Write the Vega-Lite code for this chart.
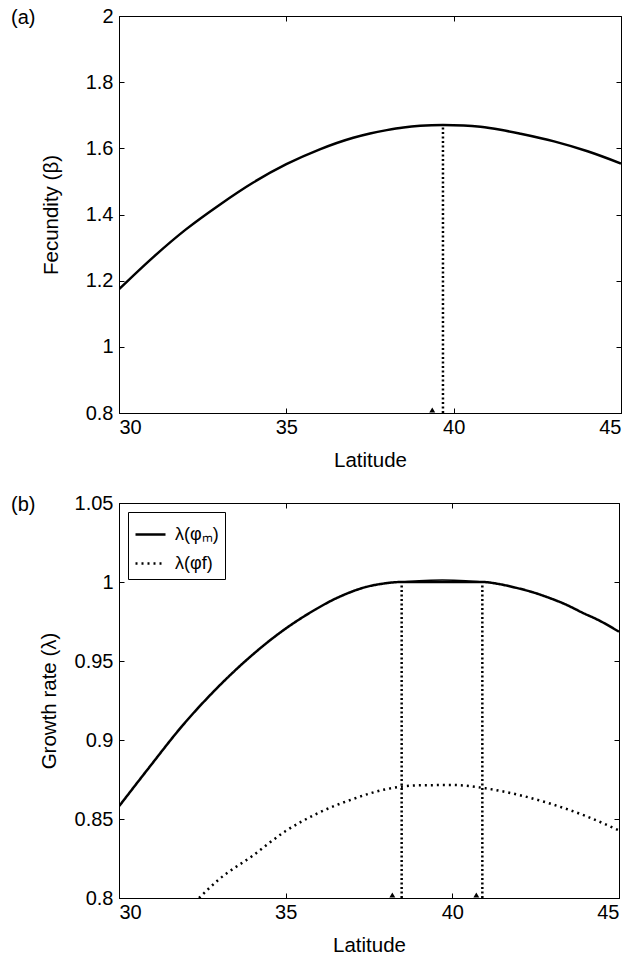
{
  "$schema": "https://vega.github.io/schema/vega-lite/v6.json",
  "padding": {"left": 10, "top": 5, "right": 7, "bottom": 2},
  "spacing": 21,
  "resolve": {"legend": {"strokeDash": "independent"}},
  "config": {
    "font": "Liberation Sans",
    "view": {"stroke": "black", "strokeWidth": 1},
    "axis": {"grid": false, "domainColor": "black", "tickColor": "black", "labelColor": "black", "titleColor": "black", "labelFontSize": 20, "titleFontSize": 20.5, "titleFontWeight": "normal", "tickSize": -5, "labelPadding": 11, "domainWidth": 1, "tickWidth": 1},
    "axisX": {"labelPadding": 9},
    "title": {"fontSize": 20, "fontWeight": "normal", "anchor": "start", "frame": "group", "color": "black"},
    "legend": {"orient": "top-left", "offset": 9, "strokeColor": "black", "fillColor": "white", "padding": 6, "symbolType": "stroke", "symbolSize": 900, "symbolStrokeWidth": 2.5, "symbolStrokeColor": "black", "labelFontSize": 18, "labelOffset": 8, "labelColor": "black", "rowPadding": 3}
  },
  "datasets": {
    "fec": [
      {"lat": 30, "beta": 1.174}, {"lat": 31, "beta": 1.269}, {"lat": 32, "beta": 1.355}, {"lat": 33, "beta": 1.429},
      {"lat": 34, "beta": 1.496}, {"lat": 35, "beta": 1.552}, {"lat": 36, "beta": 1.597}, {"lat": 37, "beta": 1.632},
      {"lat": 37.5, "beta": 1.645}, {"lat": 38, "beta": 1.655}, {"lat": 38.5, "beta": 1.663}, {"lat": 39, "beta": 1.668},
      {"lat": 39.68, "beta": 1.6705}, {"lat": 40.3, "beta": 1.669}, {"lat": 40.8, "beta": 1.665}, {"lat": 41.4, "beta": 1.656},
      {"lat": 42, "beta": 1.644}, {"lat": 43, "beta": 1.621}, {"lat": 44, "beta": 1.591}, {"lat": 45, "beta": 1.554}
    ],
    "growth": [
      {"series": "λ(φₘ)", "lat": 30, "lam": 0.858}, {"series": "λ(φₘ)", "lat": 30.9, "lam": 0.8825},
      {"series": "λ(φₘ)", "lat": 31.9, "lam": 0.909}, {"series": "λ(φₘ)", "lat": 32.9, "lam": 0.932},
      {"series": "λ(φₘ)", "lat": 33.9, "lam": 0.952}, {"series": "λ(φₘ)", "lat": 34.9, "lam": 0.969},
      {"series": "λ(φₘ)", "lat": 35.9, "lam": 0.9827}, {"series": "λ(φₘ)", "lat": 36.4, "lam": 0.9885},
      {"series": "λ(φₘ)", "lat": 36.9, "lam": 0.9932}, {"series": "λ(φₘ)", "lat": 37.4, "lam": 0.9968},
      {"series": "λ(φₘ)", "lat": 37.9, "lam": 0.9989}, {"series": "λ(φₘ)", "lat": 38.48, "lam": 1.0},
      {"series": "λ(φₘ)", "lat": 40.9, "lam": 1.0}, {"series": "λ(φₘ)", "lat": 41.4, "lam": 0.9987},
      {"series": "λ(φₘ)", "lat": 41.9, "lam": 0.9964}, {"series": "λ(φₘ)", "lat": 42.4, "lam": 0.9936},
      {"series": "λ(φₘ)", "lat": 42.9, "lam": 0.990}, {"series": "λ(φₘ)", "lat": 43.4, "lam": 0.9858},
      {"series": "λ(φₘ)", "lat": 43.9, "lam": 0.9806}, {"series": "λ(φₘ)", "lat": 44.4, "lam": 0.9757},
      {"series": "λ(φₘ)", "lat": 45, "lam": 0.9685},
      {"series": "λ(φf)", "lat": 32.4, "lam": 0.8}, {"series": "λ(φf)", "lat": 33, "lam": 0.8118},
      {"series": "λ(φf)", "lat": 34, "lam": 0.8266}, {"series": "λ(φf)", "lat": 35, "lam": 0.8424},
      {"series": "λ(φf)", "lat": 36, "lam": 0.854}, {"series": "λ(φf)", "lat": 37, "lam": 0.8625},
      {"series": "λ(φf)", "lat": 38, "lam": 0.8688}, {"series": "λ(φf)", "lat": 39, "lam": 0.8713},
      {"series": "λ(φf)", "lat": 40, "lam": 0.8715}, {"series": "λ(φf)", "lat": 41, "lam": 0.8694},
      {"series": "λ(φf)", "lat": 42, "lam": 0.8652}, {"series": "λ(φf)", "lat": 43, "lam": 0.8593},
      {"series": "λ(φf)", "lat": 44, "lam": 0.8519}, {"series": "λ(φf)", "lat": 45, "lam": 0.8428}
    ],
    "bump": [
      {"lat": 38.5, "lam": 1.0}, {"lat": 39.0, "lam": 1.0008}, {"lat": 39.7, "lam": 1.0012}, {"lat": 40.4, "lam": 1.0008}, {"lat": 40.9, "lam": 1.0}
    ]
  },
  "vconcat": [
    {
      "width": 502,
      "height": 397,
      "title": {"text": "(a)", "dx": -108, "dy": 22, "offset": 0},
      "layer": [
        {
          "data": {"name": "fec"},
          "mark": {"type": "line", "color": "black", "strokeWidth": 2.5, "clip": true, "interpolate": "monotone"},
          "encoding": {
            "x": {"field": "lat", "type": "quantitative", "scale": {"domain": [30, 45], "nice": false, "zero": false},
                  "axis": {"values": [30, 35, 40, 45], "title": "Latitude", "titleY": 37}},
            "y": {"field": "beta", "type": "quantitative", "scale": {"domain": [0.8, 2], "nice": false, "zero": false},
                  "axis": {"values": [0.8, 1, 1.2, 1.4, 1.6, 1.8, 2], "format": ".1~f", "title": "Fecundity (β)", "titleX": -62, "titleBaseline": "alphabetic"}}
          }
        },
        {
          "data": {"values": [{"lat": 39.68, "lo": 0.8, "hi": 1.6705}]},
          "mark": {"type": "rule", "color": "black", "strokeWidth": 2.5, "strokeDash": [2, 2.5]},
          "encoding": {
            "x": {"field": "lat", "type": "quantitative", "axis": {"orient": "top", "labels": false, "title": null, "values": [30, 35, 40, 45], "domain": false}},
            "y": {"field": "lo", "type": "quantitative", "axis": {"orient": "right", "labels": false, "title": null, "values": [0.8, 1, 1.2, 1.4, 1.6, 1.8, 2], "domain": false}},
            "y2": {"field": "hi"}
          }
        },
        {
          "data": {"values": [{"lat": 39.36, "v": 0.8}]},
          "mark": {"type": "point", "shape": "triangle-up", "filled": true, "color": "black", "size": 35, "opacity": 1, "yOffset": -3},
          "encoding": {
            "x": {"field": "lat", "type": "quantitative", "axis": null},
            "y": {"field": "v", "type": "quantitative", "axis": null}
          }
        }
      ],
      "resolve": {"axis": {"x": "independent", "y": "independent"}}
    },
    {
      "width": 500,
      "height": 395,
      "title": {"text": "(b)", "dx": -108, "dy": 22, "offset": 0},
      "layer": [
        {
          "data": {"name": "growth"},
          "mark": {"type": "line", "color": "black", "strokeWidth": 2.5, "clip": true, "interpolate": "monotone"},
          "encoding": {
            "x": {"field": "lat", "type": "quantitative", "scale": {"domain": [30, 45], "nice": false, "zero": false},
                  "axis": {"values": [30, 35, 40, 45], "title": "Latitude", "titleY": 37}},
            "y": {"field": "lam", "type": "quantitative", "scale": {"domain": [0.8, 1.05], "nice": false, "zero": false},
                  "axis": {"values": [0.8, 0.85, 0.9, 0.95, 1, 1.05], "format": ".2~f", "title": "Growth rate (λ)", "titleX": -64, "titleBaseline": "alphabetic"}},
            "strokeDash": {"field": "series", "type": "nominal", "scale": {"domain": ["λ(φₘ)", "λ(φf)"], "range": [[1, 0], [2, 4]]}, "legend": {"title": null}}
          }
        },
        {
          "data": {"name": "bump"},
          "mark": {"type": "line", "color": "black", "strokeWidth": 1.5, "interpolate": "monotone"},
          "encoding": {
            "x": {"field": "lat", "type": "quantitative", "axis": null},
            "y": {"field": "lam", "type": "quantitative", "axis": null}
          }
        },
        {
          "data": {"values": [{"lat": 38.48, "lo": 0.8, "hi": 1.0}, {"lat": 40.9, "lo": 0.8, "hi": 1.0}]},
          "mark": {"type": "rule", "color": "black", "strokeWidth": 2.5, "strokeDash": [2, 2.5]},
          "encoding": {
            "x": {"field": "lat", "type": "quantitative", "axis": {"orient": "top", "labels": false, "title": null, "values": [30, 35, 40, 45], "domain": false}},
            "y": {"field": "lo", "type": "quantitative", "axis": {"orient": "right", "labels": false, "title": null, "values": [0.8, 0.85, 0.9, 0.95, 1, 1.05], "domain": false}},
            "y2": {"field": "hi"}
          }
        },
        {
          "data": {"values": [{"lat": 38.2, "v": 0.8}, {"lat": 40.72, "v": 0.8}]},
          "mark": {"type": "point", "shape": "triangle-up", "filled": true, "color": "black", "size": 35, "opacity": 1, "yOffset": -3},
          "encoding": {
            "x": {"field": "lat", "type": "quantitative", "axis": null},
            "y": {"field": "v", "type": "quantitative", "axis": null}
          }
        }
      ],
      "resolve": {"axis": {"x": "independent", "y": "independent"}}
    }
  ]
}
